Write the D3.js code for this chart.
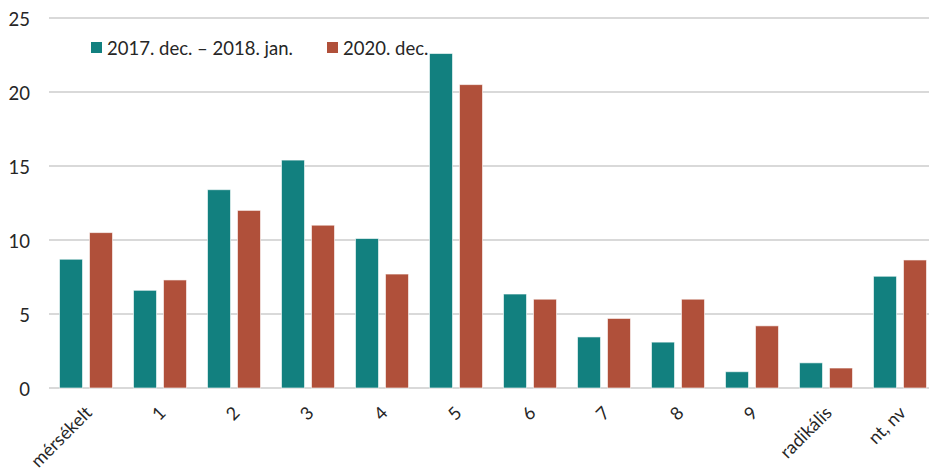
<!DOCTYPE html>
<html><head><meta charset="utf-8">
<script src="https://cdn.jsdelivr.net/npm/d3@7"></script>
<style>body{margin:0;background:#fff;}svg{display:block;}</style>
</head><body>
<script>
const categories = ["mérsékelt","1","2","3","4","5","6","7","8","9","radikális","nt, nv"];
const seriesNames = ["2017. dec. – 2018. jan.","2020. dec."];
const series1 = [8.7,6.6,13.4,15.4,10.1,22.6,6.35,3.45,3.1,1.1,1.7,7.55];
const series2 = [10.5,7.3,12.0,11.0,7.7,20.5,6.0,4.7,6.0,4.2,1.35,8.65];
const yTicks = [0,5,10,15,20,25];
const colors = ["#12807f","#b0503a"];

const W=929,H=471;
const svg=d3.select("body").append("svg").attr("width",W).attr("height",H);
const font="Lato, 'Open Sans', sans-serif";
const txt="#262626";
const y=d3.scaleLinear().domain([0,25]).range([388,18]);
const x=d3.scaleBand().domain(categories).range([49,937]).paddingInner(0.284).paddingOuter(0.142);
const xs=d3.scaleBand().domain([0,1]).range([0,x.bandwidth()]).paddingInner(0.233);

// gridlines
svg.append("g").selectAll("line").data(yTicks).join("line")
  .attr("x1",49).attr("x2",W).attr("y1",d=>y(d)).attr("y2",d=>y(d))
  .attr("stroke","#d9d9d9").attr("stroke-width",2);
// y axis labels
const yAxis=d3.axisLeft(y).tickValues(yTicks).tickSize(0).tickPadding(0);
const ga=svg.append("g").attr("transform","translate(30,2)").call(yAxis);
ga.select(".domain").remove();
ga.selectAll("text").attr("font-family",font).attr("font-size",18.5).attr("fill",txt);

const data=[series1,series2];
data.forEach((s,i)=>{
  svg.append("g").selectAll("rect").data(s).join("rect")
    .attr("x",(d,j)=>x(categories[j])+xs(i))
    .attr("width",xs.bandwidth())
    .attr("y",d=>y(d)).attr("height",d=>y(0)-y(d))
    .attr("fill",colors[i]).attr("stroke","#fff").attr("stroke-opacity",0.6).attr("stroke-width",1);
});

// x labels
const xAxis=d3.axisBottom(x).tickSize(0).tickPadding(0);
const gx=svg.append("g").attr("transform","translate(0,396)").call(xAxis);
gx.select(".domain").remove();
gx.selectAll("text").attr("font-family",font).attr("font-size",18).attr("fill",txt)
  .attr("text-anchor","end").attr("dy",0)
  .attr("transform","translate(7,18) rotate(-45)");

// legend
const legX=[91,327];
seriesNames.forEach((n,i)=>{
  const g=svg.append("g").attr("transform",`translate(${legX[i]},42)`);
  g.append("rect").attr("width",11).attr("height",11).attr("fill",colors[i]);
  g.append("text").attr("x",16).attr("y",13).attr("font-family",font).attr("font-size",18.5)
   .attr("fill",txt).text(n);
});
</script>
</body></html>
